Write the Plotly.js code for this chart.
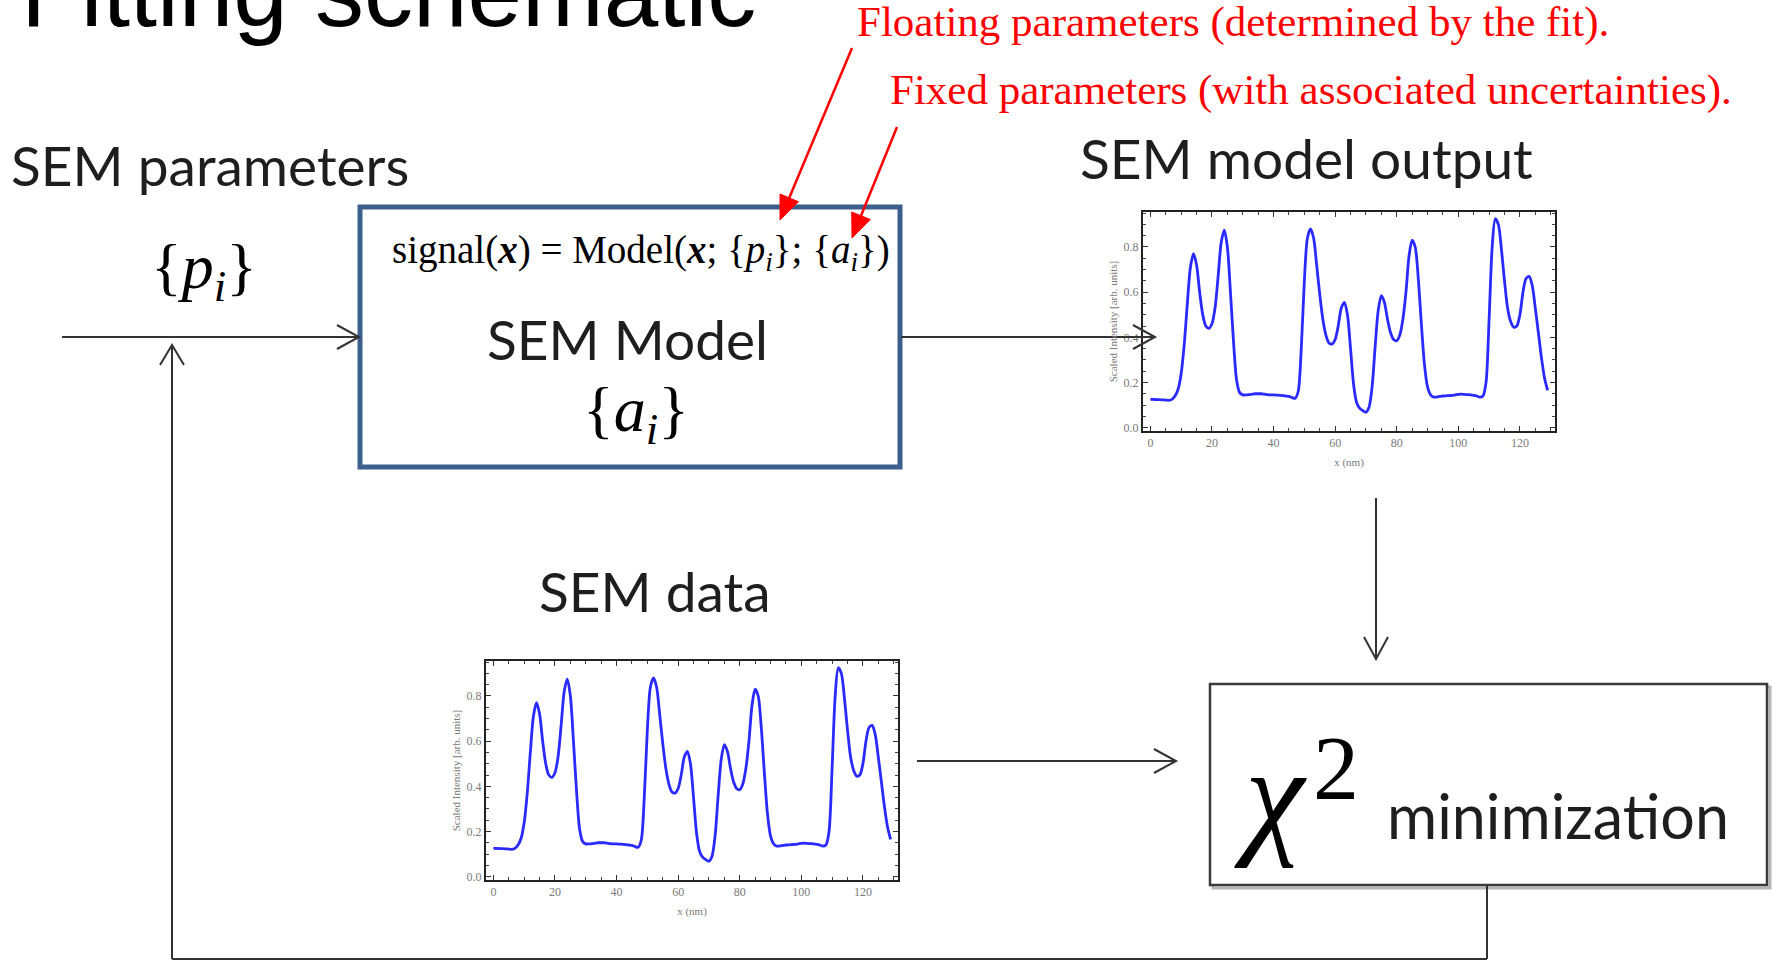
<!DOCTYPE html>
<html><head><meta charset="utf-8">
<script src="https://cdn.plot.ly/plotly-3.0.1.min.js"></script>
<style>html,body{margin:0;padding:0;background:#fff;overflow:hidden}</style>
</head><body><div id="chart" style="width:1776px;height:962px"></div>
<script>
// ---------- data ----------
const positionNm = [0,1,2,3,4,5,6,7,8,9,10,11,12,13,14,15,16,17,18,19,20,21,22,23,24,25,26,27,28,29,
  30,31,32,33,34,35,36,37,38,39,40,41,42,43,44,45,46,47,48,49,50,51,52,53,54,55,56,57,58,59,
  60,61,62,63,64,65,66,67,68,69,70,71,72,73,74,75,76,77,78,79,80,81,82,83,84,85,86,87,88,89,
  90,91,92,93,94,95,96,97,98,99,100,101,102,103,104,105,106,107,108,109,110,111,112,113,114,115,116,117,118,119,
  120,121,122,123,124,125,126,127,128,129];

const modelIntensity = [0.125,0.125,0.124,0.124,0.123,0.122,0.121,0.125,0.14,0.17,0.24,0.37,0.55,0.71,0.77,0.72,0.60,0.50,0.45,0.44,
  0.46,0.53,0.67,0.82,0.875,0.80,0.60,0.38,0.21,0.155,0.145,0.145,0.146,0.148,0.15,0.15,0.15,0.148,0.146,0.145,
  0.145,0.144,0.143,0.142,0.14,0.138,0.133,0.13,0.16,0.35,0.65,0.84,0.88,0.84,0.72,0.59,0.48,0.41,0.375,0.37,
  0.39,0.45,0.53,0.555,0.50,0.35,0.19,0.11,0.085,0.075,0.068,0.09,0.18,0.36,0.52,0.585,0.555,0.48,0.42,0.39,
  0.385,0.41,0.48,0.60,0.76,0.83,0.80,0.66,0.46,0.28,0.18,0.145,0.135,0.136,0.138,0.14,0.141,0.142,0.143,0.145,
  0.147,0.148,0.147,0.146,0.145,0.143,0.14,0.135,0.14,0.20,0.48,0.80,0.925,0.90,0.79,0.65,0.53,0.47,0.445,0.45,
  0.50,0.60,0.66,0.67,0.63,0.53,0.42,0.31,0.22,0.165];

const dataIntensity = [0.125,0.125,0.124,0.124,0.123,0.122,0.121,0.125,0.14,0.17,0.24,0.37,0.55,0.71,0.77,0.72,0.60,0.50,0.45,0.44,
  0.46,0.53,0.67,0.82,0.875,0.80,0.60,0.38,0.21,0.155,0.145,0.145,0.146,0.148,0.15,0.15,0.15,0.148,0.146,0.145,
  0.145,0.144,0.143,0.142,0.14,0.138,0.133,0.13,0.16,0.35,0.65,0.84,0.88,0.84,0.72,0.59,0.48,0.41,0.375,0.37,
  0.39,0.45,0.53,0.555,0.50,0.35,0.19,0.11,0.085,0.075,0.068,0.09,0.18,0.36,0.52,0.585,0.555,0.48,0.42,0.39,
  0.385,0.41,0.48,0.60,0.76,0.83,0.80,0.66,0.46,0.28,0.18,0.145,0.135,0.136,0.138,0.14,0.141,0.142,0.143,0.145,
  0.147,0.148,0.147,0.146,0.145,0.143,0.14,0.135,0.14,0.20,0.48,0.80,0.925,0.90,0.79,0.65,0.53,0.47,0.445,0.45,
  0.50,0.60,0.66,0.67,0.63,0.53,0.42,0.31,0.22,0.165];

const xTickVals = [0,20,40,60,80,100,120];
const yTickVals = [0.0,0.2,0.4,0.6,0.8];
const xAxisLabel = 'x (nm)';
const yAxisLabel = 'Scaled Intensity [arb. units]';

const titleText = 'Fitting schematic';
const floatingNote = 'Floating parameters (determined by the fit).';
const fixedNote = 'Fixed parameters (with associated uncertainties).';
const paramsLabel = 'SEM parameters';
const modelLabel = 'SEM Model';
const outputLabel = 'SEM model output';
const dataLabel = 'SEM data';
const minLabel = 'minimization';

// ---------- helpers (pixel -> paper) ----------
const W = 1776, H = 962;
const X = px => px / W;
const Y = py => 1 - py / H;
const SANS = 'Lato, "Open Sans", sans-serif';
const SERIF = '"Liberation Serif", "DejaVu Serif", serif';
const ARIAL = '"Liberation Sans", Arial, sans-serif';

function txt(t, px, baseline, size, family, color, anchor, k) {
  return {xref:'paper', yref:'paper', x:X(px), y:Y(baseline - k*size),
    xanchor:anchor||'left', yanchor:'middle', text:t, showarrow:false,
    font:{family:family, size:size, color:color}, borderpad:0};
}
const shapes = [];
function line(x1,y1,x2,y2,color,width){
  shapes.push({type:'line', xref:'paper', yref:'paper', x0:X(x1), y0:Y(y1), x1:X(x2), y1:Y(y2),
    line:{color:color, width:width}});
}
function head(x1,y1,x2,y2,len,hw,color,width,filled){
  const L = Math.hypot(x2-x1,y2-y1), ux=(x2-x1)/L, uy=(y2-y1)/L, nx=-uy, ny=ux;
  const ax=x2-ux*len+nx*hw, ay=y2-uy*len+ny*hw, bx=x2-ux*len-nx*hw, by=y2-uy*len-ny*hw;
  let p = `M ${X(ax)},${Y(ay)} L ${X(x2)},${Y(y2)} L ${X(bx)},${Y(by)}`;
  const s = {type:'path', xref:'paper', yref:'paper', path:p, line:{color:color, width:width}};
  if (filled) { s.path += ' Z'; s.fillcolor = color; } else { s.fillcolor = 'rgba(0,0,0,0)'; }
  shapes.push(s);
}
function arrow(x1,y1,x2,y2,color,width,len,hw,filled){
  const L = Math.hypot(x2-x1,y2-y1), ux=(x2-x1)/L, uy=(y2-y1)/L;
  const back = filled ? len*0.8 : 0;
  line(x1,y1,x2-ux*back,y2-uy*back,color,width);
  head(x1,y1,x2,y2,len,hw,color,filled?1:width,filled);
}
function rect(l,t,r,b,color,width,fill){
  shapes.push({type:'rect', xref:'paper', yref:'paper', x0:X(l), x1:X(r), y0:Y(b), y1:Y(t),
    line:{color:color, width:width}, fillcolor:fill||'rgba(0,0,0,0)'});
}

// ---------- schematic ----------
const ARC = '#333333';
rect(360,207,900,467,'#3d5f8d',5,'#ffffff');          // SEM model box
rect(1213,687,1770,888,'#b5b5b5',3,'rgba(0,0,0,0)');   // chi2 box shadow
rect(1210,684,1767,885,'#3a3a3a',2.5,'#ffffff');       // chi2 box

arrow(62,337,359,337,ARC,2,22,12,false);       // params -> model
arrow(172,959,172,345,ARC,2,20,12,false);      // feedback up
line(172,959,1487,959,ARC,2);
line(1487,959,1487,886,ARC,2);
arrow(901,337,1155,337,ARC,2,22,12,false);     // model -> output
arrow(1376,498,1376,659,ARC,2,22,12,false);    // output -> chi2
arrow(917,761,1176,761,ARC,2,22,12,false);     // data -> chi2

arrow(852,48,780,220,'#ff0000',2.5,24,10,true);
arrow(897,127,852,238,'#ff0000',2.5,24,10,true);

const annotations = [
  txt(titleText, 20, 25, 98, ARIAL, '#000000', 'left', 0.34),
  txt(floatingNote, 856, 37, 43, SERIF, '#ff0000', 'left', 0.34),
  txt(fixedNote, 889, 105, 43, SERIF, '#ff0000', 'left', 0.34),
  txt(paramsLabel, 10, 186, 55, SANS, '#1e1e1e', 'left', 0.39),
  txt('{<i>p</i><sub><i>i</i></sub>}', 204, 293, 64, SERIF, '#000000', 'center', 0.34),
  txt('signal(<b><i>x</i></b>) = Model(<b><i>x</i></b>; {<i>p</i><sub><i>i</i></sub>}; {<i>a</i><sub><i>i</i></sub>})', 391, 266, 39, SERIF, '#000000', 'left', 0.34),
  txt(modelLabel, 627, 360, 55, SANS, '#1e1e1e', 'center', 0.39),
  txt('{<i>a</i><sub><i>i</i></sub>}', 636, 436, 64, SERIF, '#000000', 'center', 0.34),
  txt(outputLabel, 1079, 179, 55, SANS, '#1e1e1e', 'left', 0.39),
  txt(dataLabel, 538, 612, 55, SANS, '#1e1e1e', 'left', 0.39),
  txt('<i>χ</i>', 1233, 841, 134, SERIF, '#000000', 'left', 0.34),
  txt('2', 1312, 799, 92, SERIF, '#000000', 'left', 0.34),
  txt(minLabel, 1386, 839, 61, SANS, '#1e1e1e', 'left', 0.39)
];

// ---------- plots ----------
function xAx(l, r, anchor){
  return {domain:[X(l),X(r)], anchor:anchor, range:[-2.4,131.4], autorange:false,
    tickmode:'array', tickvals:xTickVals, ticktext:xTickVals.map(String),
    showline:true, mirror:'allticks', linecolor:'#222', linewidth:2,
    ticks:'inside', ticklen:5, tickwidth:1, tickcolor:'#333',
    minor:{ticks:'inside', ticklen:3, dtick:5, tick0:0, tickcolor:'#444', tickwidth:1},
    showgrid:false, zeroline:false,
    tickfont:{family:SERIF, size:12, color:'#7a7a7a'},
    title:{text:xAxisLabel, font:{family:SERIF, size:11, color:'#7a7a7a'}, standoff:9}};
}
function yAx(b, t, anchor){
  return {domain:[Y(b),Y(t)], anchor:anchor, range:[-0.015,0.955], autorange:false,
    tickmode:'array', tickvals:yTickVals, ticktext:yTickVals.map(v=>v.toFixed(1)),
    showline:true, mirror:'allticks', linecolor:'#222', linewidth:2,
    ticks:'inside', ticklen:5, tickwidth:1, tickcolor:'#333',
    minor:{ticks:'inside', ticklen:3, dtick:0.05, tick0:0, tickcolor:'#444', tickwidth:1},
    showgrid:false, zeroline:false,
    tickfont:{family:SERIF, size:12, color:'#7a7a7a'},
    title:{text:yAxisLabel, font:{family:SERIF, size:11, color:'#7a7a7a'}, standoff:4}};
}

const traces = [
  {x:positionNm, y:modelIntensity, xaxis:'x', yaxis:'y', mode:'lines',
   line:{color:'#2a2aff', width:2.8, shape:'spline', smoothing:0.8}, hoverinfo:'skip', name:'SEM model output'},
  {x:positionNm, y:dataIntensity, xaxis:'x2', yaxis:'y2', mode:'lines',
   line:{color:'#2a2aff', width:2.8, shape:'spline', smoothing:0.8}, hoverinfo:'skip', name:'SEM data'}
];

const layout = {
  width:W, height:H, margin:{l:0,r:0,t:0,b:0,pad:0},
  paper_bgcolor:'#ffffff', plot_bgcolor:'#ffffff', showlegend:false,
  xaxis: xAx(1143,1555,'y'), yaxis: yAx(431,212,'x'),
  xaxis2: xAx(486,898,'y2'), yaxis2: yAx(880,661,'x2'),
  shapes: shapes, annotations: annotations
};

Plotly.newPlot('chart', traces, layout, {staticPlot:true, displayModeBar:false});
</script></body></html>
